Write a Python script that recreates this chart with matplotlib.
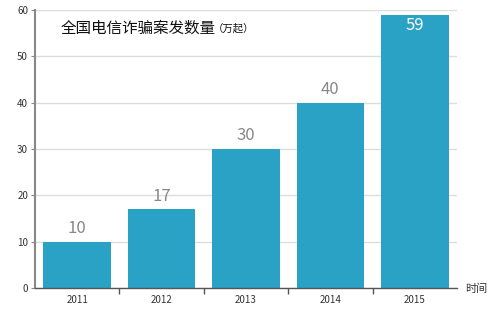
import numpy as np
import matplotlib.pyplot as plt

plt.rcParams['font.family'] = ['Noto Sans CJK SC', 'DejaVu Sans']

years = ["2011", "2012", "2013", "2014", "2015"]
cases = [10, 17, 30, 40, 59]

bar_color = "#2aa2c6"

fig = plt.figure(figsize=(5, 3.23), dpi=100)
ax = fig.add_axes([0.07, 0.108, 0.844, 0.861])

x = np.arange(len(years))
ax.bar(x, cases, width=0.8, color=bar_color, zorder=2)

for xi, v in zip(x, cases):
    if v + 5 > 60:
        ax.text(xi, v - 0.6, str(v), ha="center", va="top", color="white", fontsize=12)
    else:
        ax.text(xi, v + 1, str(v), ha="center", va="bottom", color="#888888", fontsize=12)

ax.set_xlim(-0.5, len(years) - 0.5)
ax.set_ylim(0, 60)
ax.set_yticks(range(0, 61, 10))
ax.yaxis.grid(True, color="#dddddd", linewidth=1, zorder=0)

ax.set_xticks(x)
ax.set_xticklabels(years)
ax.set_xticks(np.arange(0.5, len(years) - 0.5, 1.0), minor=True)
ax.tick_params(axis="x", which="major", length=0, labelsize=7, colors="#333333", pad=5)
ax.tick_params(axis="x", which="minor", length=4, color="#555555", width=1)
ax.tick_params(axis="y", length=3, labelsize=7, colors="#888888", labelcolor="#333333", pad=2)

for side in ["top", "right"]:
    ax.spines[side].set_visible(False)
ax.spines["left"].set_color("#888888")
ax.spines["left"].set_linewidth(1.5)
ax.spines["bottom"].set_color("#555555")
ax.spines["bottom"].set_linewidth(1)

title = ax.text(0.06, 0.935, "全国电信诈骗案发数量", transform=ax.transAxes,
                fontsize=11.2, color="#111111", va="center", ha="left")
ax.annotate("（万起）", xy=(1, 0.45), xycoords=title, xytext=(-2, 0),
            textcoords="offset points", fontsize=7.5, color="#111111",
            va="center", ha="left")

fig.text(0.93, (323 - 289) / 323, "时间", fontsize=8, color="#333333", va="center", ha="left")

fig.savefig("out.png", dpi=100)
